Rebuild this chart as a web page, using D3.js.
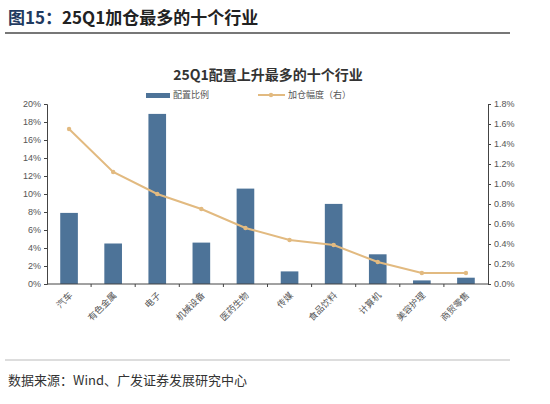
<!DOCTYPE html>
<html><head><meta charset="utf-8">
<script src="https://cdn.jsdelivr.net/npm/d3@7"></script>
<style>body{margin:0;background:#fff;font-family:"Noto Sans CJK SC",sans-serif;}</style>
</head><body><svg id="c" width="550" height="404"></svg>
<script>
const categories = ["汽车","有色金属","电子","机械设备","医药生物","传媒","食品饮料","计算机","美容护理","商贸零售"];
const allocation = [7.9, 4.5, 18.9, 4.6, 10.6, 1.4, 8.9, 3.3, 0.4, 0.7];
const increase = [1.55, 1.12, 0.90, 0.75, 0.56, 0.44, 0.39, 0.22, 0.11, 0.11];
const leftTicks = [0,2,4,6,8,10,12,14,16,18,20];
const rightTicks = [0,0.2,0.4,0.6,0.8,1.0,1.2,1.4,1.6,1.8];

const svg = d3.select("#c");
const m = {l: 47, r: 488, t: 104, b: 284};

// header
svg.append("text").attr("x", 8).attr("y", 24).attr("font-size", 17).attr("font-weight", "bold")
  .attr("fill", "#1f3a60").text("图15：")
  .append("tspan").attr("fill", "#222").text("25Q1加仓最多的十个行业");
svg.append("line").attr("x1", 5).attr("x2", 510).attr("y1", 33).attr("y2", 33)
  .attr("stroke", "#777").attr("stroke-width", 2);
svg.append("text").attr("x", 268).attr("y", 80).attr("text-anchor", "middle")
  .attr("font-size", 14).attr("font-weight", "bold").attr("fill", "#333").text("25Q1配置上升最多的十个行业");

// legend
svg.append("rect").attr("x", 146).attr("y", 93).attr("width", 24).attr("height", 5).attr("fill", "#4d7398");
svg.append("text").attr("x", 173).attr("y", 98).attr("font-size", 9).attr("fill", "#555").text("配置比例");
svg.append("line").attr("x1", 258).attr("x2", 285).attr("y1", 95).attr("y2", 95).attr("stroke", "#e2ba80").attr("stroke-width", 2);
svg.append("circle").attr("cx", 271).attr("cy", 95).attr("r", 2.2).attr("fill", "#e2ba80");
svg.append("text").attr("x", 288).attr("y", 98).attr("font-size", 9).attr("fill", "#555").text("加仓幅度（右）");

const x = d3.scaleBand().domain(categories).range([m.l, m.r]).paddingInner(0.6).paddingOuter(0.3);
const yl = d3.scaleLinear().domain([0, 20]).range([m.b, m.t]);
const yr = d3.scaleLinear().domain([0, 1.8]).range([m.b, m.t]);
const cx = c => x(c) + x.bandwidth() / 2;

svg.selectAll("rect.bar").data(allocation).enter().append("rect").attr("class", "bar")
  .attr("x", (d, i) => x(categories[i])).attr("width", x.bandwidth())
  .attr("y", d => yl(d)).attr("height", d => yl(0) - yl(d)).attr("fill", "#4d7398");

const line = d3.line().x((d, i) => cx(categories[i])).y(d => yr(d));
svg.append("path").datum(increase).attr("d", line).attr("fill", "none").attr("stroke", "#e2ba80").attr("stroke-width", 2);
svg.selectAll("circle.pt").data(increase).enter().append("circle").attr("class", "pt")
  .attr("cx", (d, i) => cx(categories[i])).attr("cy", d => yr(d)).attr("r", 2.2).attr("fill", "#e2ba80");

const ga = svg.append("g").attr("transform", `translate(${m.l},0)`)
  .call(d3.axisLeft(yl).tickValues(leftTicks).tickFormat(d => d + "%").tickSize(3));
const gb = svg.append("g").attr("transform", `translate(${m.r},0)`)
  .call(d3.axisRight(yr).tickValues(rightTicks).tickFormat(d => d.toFixed(1) + "%").tickSize(3));
[ga, gb].forEach(g => {
  g.selectAll("path,line").attr("stroke", "#444");
  g.selectAll("text").attr("font-size", 9).attr("fill", "#555").attr("font-family", "Liberation Sans, sans-serif");
});

// x axis, ticks between categories
const xg = svg.append("g");
xg.append("line").attr("x1", m.l).attr("x2", m.r).attr("y1", m.b).attr("y2", m.b).attr("stroke", "#444");
for (let i = 0; i < categories.length - 1; i++) {
  const xx = (cx(categories[i]) + cx(categories[i + 1])) / 2;
  xg.append("line").attr("x1", xx).attr("x2", xx).attr("y1", m.b).attr("y2", m.b + 3).attr("stroke", "#444");
}
categories.forEach(c => {
  xg.append("text").attr("transform", `translate(${cx(c) + 4},${m.b + 12}) rotate(-45)`)
    .attr("text-anchor", "end").attr("font-size", 9).attr("fill", "#555").text(c);
});

svg.append("line").attr("x1", 5).attr("x2", 510).attr("y1", 360).attr("y2", 360).attr("stroke", "#bbb").attr("stroke-width", 1);
svg.append("text").attr("x", 8).attr("y", 385).attr("font-size", 13).attr("fill", "#333").text("数据来源：Wind、广发证券发展研究中心");
</script></body></html>
